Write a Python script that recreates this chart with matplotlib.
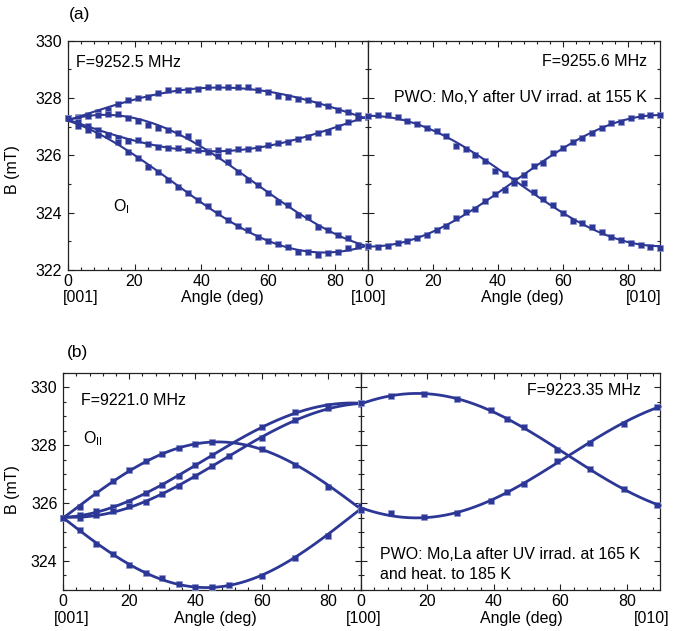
import numpy as np
import matplotlib
matplotlib.use("Agg")
import matplotlib.pyplot as plt
from matplotlib.ticker import MultipleLocator

plt.rcParams['font.family'] = ['Liberation Sans', 'DejaVu Sans']
plt.rcParams['mathtext.fontset'] = 'custom'
plt.rcParams['mathtext.rm'] = 'Liberation Sans'
plt.rcParams['font.size'] = 11.5

BLUE = '#2d3796'
EDGE = '#8f97d2'

# ---- (a) PWO:Mo,Y, O_I centre -------------------------------------------
ang_a = list(range(0, 91, 3))
a_left_1 = [327.30, 327.33, 327.40, 327.50, 327.58, 327.78, 327.92, 328.00, 328.05, 328.18,
            328.28, 328.28, 328.28, 328.30, 328.38, 328.38, 328.38, 328.38, 328.38, 328.28,
            328.20, 328.08, 328.03, 327.98, 327.92, 327.78, 327.72, 327.58, 327.50, 327.40, 327.33]
a_left_2 = [327.29, 327.32, 327.38, 327.42, 327.45, 327.43, 327.29, 327.20, 327.06, 326.94,
            326.88, 326.79, 326.67, 326.48, 326.15, 325.98, 325.78, 325.43, 325.14, 324.97,
            324.67, 324.38, 324.27, 323.92, 323.86, 323.51, 323.40, 323.22, 323.10, 322.87, 322.81]
a_left_3 = [327.30, 327.18, 327.02, 326.88, 326.72, 326.62, 326.50, 326.52, 326.40, 326.30,
            326.25, 326.25, 326.20, 326.20, 326.10, 326.20, 326.15, 326.22, 326.22, 326.25,
            326.36, 326.42, 326.48, 326.56, 326.65, 326.77, 326.83, 327.00, 327.18, 327.30, 327.35]
a_left_4 = [327.30, 327.02, 326.88, 326.72, 326.70, 326.48, 326.13, 325.90, 325.60, 325.43,
            325.14, 324.90, 324.70, 324.44, 324.23, 324.00, 323.74, 323.55, 323.40, 323.16,
            323.02, 322.90, 322.80, 322.64, 322.62, 322.52, 322.58, 322.64, 322.76, 322.84, 322.81]
a_right_1 = [327.37, 327.40, 327.40, 327.33, 327.20, 327.09, 326.94, 326.85, 326.67, 326.34,
             326.22, 326.01, 325.80, 325.45, 325.35, 325.14, 325.02, 324.71, 324.48, 324.27,
             323.98, 323.72, 323.65, 323.51, 323.34, 323.14, 323.05, 322.95, 322.87, 322.79, 322.76]
a_right_2 = [322.84, 322.81, 322.84, 322.95, 323.02, 323.10, 323.22, 323.40, 323.53, 323.80,
             324.01, 324.13, 324.42, 324.64, 324.79, 325.05, 325.31, 325.64, 325.72, 326.09,
             326.27, 326.48, 326.62, 326.77, 326.94, 327.12, 327.17, 327.29, 327.37, 327.40, 327.40]

# ---- (b) PWO:Mo,La, O_II centre ------------------------------------------
ang_b14 = [0, 5, 10, 15, 20, 25, 30, 35, 40, 45, 60, 70, 80, 90]
ang_b15 = [0, 5, 10, 15, 20, 25, 30, 35, 40, 45, 50, 60, 70, 80, 90]
b_left_1 = [325.47, 325.87, 326.33, 326.75, 327.13, 327.45, 327.71, 327.91, 328.03, 328.12,
            327.85, 327.30, 326.56, 325.87]
b_left_2 = [325.47, 325.07, 324.60, 324.24, 323.86, 323.60, 323.40, 323.20, 323.12, 323.09,
            323.16, 323.48, 324.09, 324.86, 325.89]
b_left_3 = [325.47, 325.58, 325.72, 325.88, 326.05, 326.33, 326.64, 326.94, 327.30, 327.65,
            328.62, 329.14, 329.35, 329.45]
b_left_4 = [325.47, 325.50, 325.60, 325.72, 325.90, 326.04, 326.31, 326.58, 326.94, 327.27,
            327.61, 328.26, 328.85, 329.28, 329.43]
ang_br = [0, 9, 19, 29, 39, 44, 49, 59, 69, 79, 89]
b_right_1 = [329.45, 329.68, 329.77, 329.60, 329.20, 328.89, 328.62, 327.84, 327.19, 326.50, 325.93]
b_right_2 = [325.76, 325.64, 325.53, 325.64, 326.08, 326.39, 326.65, 327.44, 328.07, 328.74, 329.33]


def harmonic_fit(ang, b):
    # B(t) = B0 + Bc cos 2t + Bs sin 2t, least squares
    t = np.radians(np.asarray(ang, float))
    m = np.column_stack([np.ones_like(t), np.cos(2 * t), np.sin(2 * t)])
    c = np.linalg.lstsq(m, np.asarray(b, float), rcond=None)[0]
    tt = np.radians(np.linspace(0, 90, 200))
    return np.degrees(tt), c[0] + c[1] * np.cos(2 * tt) + c[2] * np.sin(2 * tt)


def branch(ax, ang, b, ms, lw):
    ax.plot(ang, b, 's', ms=ms, color=BLUE, mec=EDGE, mew=0.5, clip_on=False, zorder=3)
    xf, yf = harmonic_fit(ang, b)
    ax.plot(xf, yf, '-', lw=lw, color=BLUE, clip_on=False, zorder=4)


def style(ax, ylim, yminor, show_y):
    ax.set_xlim(0, 90)
    ax.set_ylim(*ylim)
    ax.xaxis.set_major_locator(MultipleLocator(20))
    ax.xaxis.set_minor_locator(MultipleLocator(4))
    ax.yaxis.set_major_locator(MultipleLocator(2))
    ax.yaxis.set_minor_locator(MultipleLocator(yminor))
    ax.tick_params(which='both', direction='in', top=True, right=True,
                   labelleft=show_y, width=0.8, color='#222222')
    ax.tick_params(which='major', length=4.5)
    ax.tick_params(which='minor', length=2.5)
    ax.tick_params(axis='x', pad=3)
    ax.tick_params(axis='y', pad=4)
    for s in ax.spines.values():
        s.set_linewidth(0.9)
        s.set_color('#222222')


fig = plt.figure(figsize=(6.79, 6.31), dpi=100)

ax1 = fig.add_axes([0.0997, 0.5721, 0.4430, 0.3634])
ax2 = fig.add_axes([0.5427, 0.5721, 0.4293, 0.3634])
ax3 = fig.add_axes([0.0928, 0.0650, 0.4389, 0.3444])
ax4 = fig.add_axes([0.5317, 0.0650, 0.4404, 0.3444])

for b in (a_left_1, a_left_2, a_left_3, a_left_4):
    branch(ax1, ang_a, b, 4.1, 1.5)
for b in (a_right_1, a_right_2):
    branch(ax2, ang_a, b, 4.1, 1.5)
branch(ax3, ang_b14, b_left_1, 4.7, 2.0)
branch(ax3, ang_b15, b_left_2, 4.7, 2.0)
branch(ax3, ang_b14, b_left_3, 4.7, 2.0)
branch(ax3, ang_b15, b_left_4, 4.7, 2.0)
branch(ax4, ang_br, b_right_1, 4.7, 2.0)
branch(ax4, ang_br, b_right_2, 4.7, 2.0)

style(ax1, (322, 330), 1, True)
style(ax2, (322, 330), 1, False)
style(ax3, (323, 330.5), 0.5, True)
style(ax4, (323, 330.5), 0.5, False)

for ax, yl in ((ax1, (-0.159, 0.436)), (ax3, (-0.144, 0.46))):
    ax.set_ylabel('B (mT)')
    ax.yaxis.set_label_coords(*yl)

# axis captions under the tick labels
for ax, y, xc, lo, lo_x, hi, hi_x in (
        (ax1, -0.118, 0.513, '[001]', 0.043, None, None),
        (ax2, -0.118, 0.527, '[100]', 0.0, '[010]', 0.945),
        (ax3, -0.133, 0.51, '[001]', 0.03, None, None),
        (ax4, -0.133, 0.535, '[100]', 0.01, '[010]', 0.973)):
    ax.text(xc, y, 'Angle (deg)', transform=ax.transAxes, ha='center', va='center')
    ax.text(lo_x, y, lo, transform=ax.transAxes, ha='center', va='center')
    if hi:
        ax.text(hi_x, y, hi, transform=ax.transAxes, ha='center', va='center')

ax1.text(0.028, 0.907, 'F=9252.5 MHz', transform=ax1.transAxes, va='center')
ax1.text(0.15, 0.275, r'O$_{\rm I}$', transform=ax1.transAxes, va='center')
ax2.text(0.955, 0.911, 'F=9255.6 MHz', transform=ax2.transAxes, ha='right', va='center')
ax2.text(0.955, 0.754, 'PWO: Mo,Y after UV irrad. at 155 K', transform=ax2.transAxes,
         ha='right', va='center')

ax3.text(0.06, 0.874, 'F=9221.0 MHz', transform=ax3.transAxes, va='center')
ax3.text(0.067, 0.695, r'O$_{\rm II}$', transform=ax3.transAxes, va='center')
ax4.text(0.936, 0.917, 'F=9223.35 MHz', transform=ax4.transAxes, ha='right', va='center')
ax4.text(0.064, 0.161, 'PWO: Mo,La after UV irrad. at 165 K', transform=ax4.transAxes,
         va='center')
ax4.text(0.064, 0.069, 'and heat. to 185 K', transform=ax4.transAxes, va='center')

fig.text(80 / 679, 1 - 15 / 631, '(a)', ha='center', va='center', fontsize=12.5)
fig.text(77 / 679, 1 - 352 / 631, '(b)', ha='center', va='center', fontsize=12.5)

fig.savefig('out.png', dpi=100)
